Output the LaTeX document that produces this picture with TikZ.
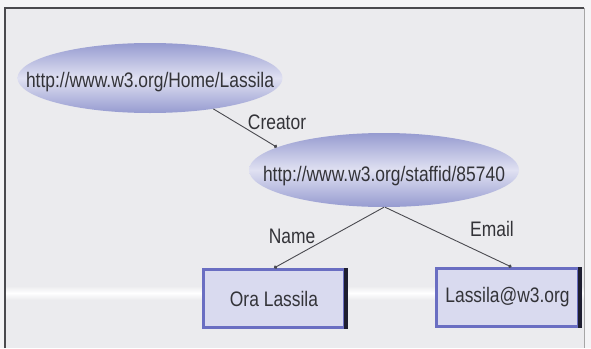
\documentclass[tikz,border=0pt]{standalone}
\usepackage{fontspec}
\setmainfont{Liberation Sans}[FakeStretch=0.83]
\usetikzlibrary{arrows.meta,shapes.geometric}
\definecolor{bgc}{HTML}{EBEBEE}
\definecolor{topc}{HTML}{F4F4F6}
\definecolor{framec}{HTML}{4A4A4E}
\definecolor{ellout}{HTML}{969BD0}
\definecolor{ellmid}{HTML}{E0E1F2}
\definecolor{boxfill}{HTML}{D9DAEF}
\definecolor{boxblue}{HTML}{6A6EC2}
\definecolor{boxdark}{HTML}{1E1E30}
\definecolor{txt}{HTML}{333338}
\definecolor{linec}{HTML}{4A4A50}
\tikzset{
  txtfont/.style={font=\fontsize{21}{25}\selectfont, text=txt},
  ellnode/.style={ellipse, inner sep=0pt, top color=ellout, bottom color=ellout, middle color=ellmid, txtfont},
  boxnode/.style={rectangle, inner sep=0pt, fill=boxfill, draw=boxblue, line width=3pt, txtfont},
  conn/.style={draw=linec, line width=0.9pt, -{Circle[length=3.5pt]}},
  lbl/.style={txtfont, inner sep=0pt}
}
\begin{document}
\begin{tikzpicture}[x=1pt,y=-1pt]
\useasboundingbox (0,0) rectangle (591,348);
\fill[topc] (0,0) rectangle (591,348);
\fill[bgc] (5,8) rectangle (584,348);
\shade[top color=bgc, bottom color=bgc, middle color=white] (5,286) rectangle (584,300);
\draw[framec, line width=2pt] (5,348) -- (5,8) -- (584,8);
\draw[gray!70, line width=1pt] (584,8) -- (584,348);

\node[ellnode, minimum width=265pt, minimum height=70pt] (e1) at (150,78) {\makebox[0pt]{\raisebox{-9pt}[0pt][0pt]{http://www.w3.org/Home/Lassila}}};
\node[ellnode, minimum width=270pt, minimum height=74pt] (e2) at (384,170) {\makebox[0pt]{\raisebox{-11pt}[0pt][0pt]{http://www.w3.org/staffid/85740}}};

\node[boxnode, minimum width=141pt, minimum height=58pt] (b1) at (274,298.5) {Ora Lassila};
\node[boxnode, minimum width=142pt, minimum height=58pt] (b2) at (507.5,297.5) {Lassila@w3.org};
\draw[boxdark, line width=4pt] ([xshift=-0.5pt]b1.north east) -- ([xshift=-0.5pt]b1.south east);
\draw[boxdark, line width=4pt] ([xshift=-0.5pt]b2.north east) -- ([xshift=-0.5pt]b2.south east);

\draw[conn] (e1.-26) -- (e2.168.8);
\draw[conn] (e2.south) -- (b1.north);
\draw[conn] ([xshift=1pt]e2.south) -- ([xshift=4pt]b2.north);

\node[lbl] (lc) at (277,122) {Creator};
\node[lbl] (ln) at (292,236) {Name};
\node[lbl] (le) at (492,229) {Email};
\end{tikzpicture}
\end{document}
